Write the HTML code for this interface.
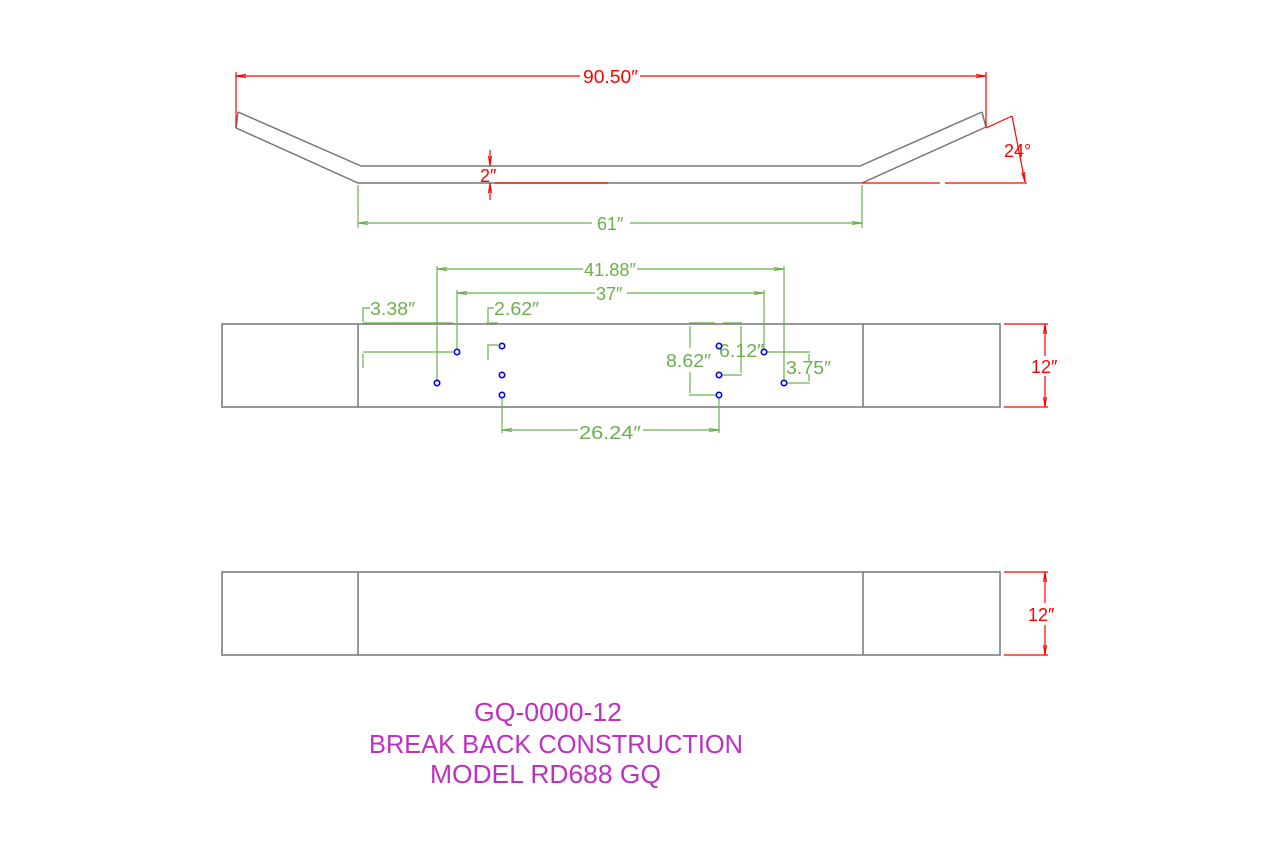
<!DOCTYPE html>
<html><head><meta charset="utf-8"><style>
html,body{margin:0;padding:0;background:#fff;}
svg{display:block;}
text{font-family:"Liberation Sans",sans-serif;}
</style></head><body>
<svg width="1280" height="853" viewBox="0 0 1280 853" xmlns="http://www.w3.org/2000/svg">
<defs>
<marker id="ag" viewBox="0 0 10 6" refX="10" refY="3" markerWidth="10" markerHeight="6" orient="auto-start-reverse" markerUnits="userSpaceOnUse"><path d="M0,1.5 L10,3 L0,4.5" fill="none" stroke="#6ab04c" stroke-width="1"/></marker>
<marker id="rr" viewBox="0 0 10 6" refX="10" refY="3" markerWidth="10" markerHeight="6" orient="auto-start-reverse" markerUnits="userSpaceOnUse"><path d="M0,1.5 L10,3 L0,4.5" fill="none" stroke="#f00" stroke-width="1"/></marker>
</defs>

<g stroke="#777" stroke-width="1.5" fill="none">
<polyline points="238,112 361,166 860,166 982,112"/>
<polyline points="236,128 358,183 862,183 986,127"/>
<line x1="238" y1="112" x2="236" y2="128"/>
<line x1="982" y1="112" x2="986" y2="127"/>
</g>
<g stroke="#f00" stroke-width="1.2" fill="none">
<line x1="236" y1="72" x2="236" y2="128"/>
<line x1="986" y1="72" x2="986" y2="127"/>
<line x1="236" y1="76" x2="580" y2="76" marker-start="url(#rr)"/>
<line x1="640" y1="76" x2="986" y2="76" marker-end="url(#rr)"/>
<line x1="490" y1="150" x2="490" y2="166" marker-end="url(#rr)"/>
<line x1="490" y1="200" x2="490" y2="183" marker-end="url(#rr)"/>
<line x1="495" y1="183" x2="608" y2="183"/>
<line x1="862" y1="183" x2="940" y2="183"/>
<line x1="945" y1="183" x2="1027" y2="183"/>
<line x1="986" y1="128" x2="1012" y2="116"/>
<line x1="1012" y1="116" x2="1025" y2="182" marker-end="url(#rr)"/>
</g>
<g fill="#f00" font-size="18">
<text x="583" y="83" textLength="55" lengthAdjust="spacingAndGlyphs">90.50″</text>
<text x="480" y="182">2″</text>
<text x="1004" y="157">24°</text>
</g>
<g stroke="#6ab04c" stroke-width="1.2" fill="none">
<line x1="358" y1="185" x2="358" y2="228"/>
<line x1="862" y1="185" x2="862" y2="228"/>
<line x1="358" y1="223" x2="592" y2="223" marker-start="url(#ag)"/>
<line x1="630" y1="223" x2="862" y2="223" marker-end="url(#ag)"/>
</g>
<text x="597" y="230" fill="#6ab04c" font-size="18">61″</text>

<g stroke="#777" stroke-width="1.5" fill="none">
<rect x="222" y="324" width="778" height="83"/>
<line x1="358" y1="324" x2="358" y2="407"/>
<line x1="863" y1="324" x2="863" y2="407"/>
</g>
<g stroke="#6ab04c" stroke-width="1.2" fill="none">
<line x1="437" y1="380" x2="437" y2="266"/>
<line x1="784" y1="380" x2="784" y2="266"/>
<line x1="437" y1="269" x2="583" y2="269" marker-start="url(#ag)"/>
<line x1="637" y1="269" x2="784" y2="269" marker-end="url(#ag)"/>
<line x1="457" y1="349" x2="457" y2="290"/>
<line x1="764" y1="349" x2="764" y2="290"/>
<line x1="457" y1="293" x2="595" y2="293" marker-start="url(#ag)"/>
<line x1="627" y1="293" x2="764" y2="293" marker-end="url(#ag)"/>
<line x1="363" y1="323" x2="453" y2="323"/>
<polyline points="363,322 363,308 370,308"/>
<line x1="363" y1="352" x2="453" y2="352"/>
<line x1="363" y1="354" x2="363" y2="368"/>
<polyline points="488,322 488,308 494,308"/>
<line x1="486" y1="323" x2="498" y2="323"/>
<polyline points="498,345 488,345 488,360"/>
<line x1="689" y1="323" x2="715" y2="323"/>
<line x1="689" y1="395" x2="716" y2="395"/>
<line x1="690" y1="326" x2="690" y2="348"/>
<line x1="690" y1="372" x2="690" y2="393"/>
<line x1="723" y1="323" x2="742" y2="323"/>
<line x1="722" y1="375" x2="742" y2="375"/>
<line x1="741" y1="326" x2="741" y2="373"/>
<line x1="767" y1="352" x2="810" y2="352"/>
<line x1="787" y1="383" x2="810" y2="383"/>
<line x1="809" y1="354" x2="809" y2="362"/>
<line x1="809" y1="374" x2="809" y2="381"/>
<line x1="502" y1="398" x2="502" y2="433"/>
<line x1="719" y1="398" x2="719" y2="433"/>
<line x1="502" y1="430" x2="578" y2="430" marker-start="url(#ag)"/>
<line x1="643" y1="430" x2="719" y2="430" marker-end="url(#ag)"/>
</g>
<g fill="#6ab04c" font-size="18">
<text x="584" y="276" textLength="52" lengthAdjust="spacingAndGlyphs">41.88″</text>
<text x="596" y="300">37″</text>
<text x="370" y="315" textLength="45" lengthAdjust="spacingAndGlyphs">3.38″</text>
<text x="494" y="315" textLength="45" lengthAdjust="spacingAndGlyphs">2.62″</text>
<text x="666" y="367" textLength="45" lengthAdjust="spacingAndGlyphs">8.62″</text>
<text x="719" y="357" textLength="45" lengthAdjust="spacingAndGlyphs">6.12″</text>
<text x="786" y="374" textLength="45" lengthAdjust="spacingAndGlyphs">3.75″</text>
<text x="579" y="439" textLength="62" lengthAdjust="spacingAndGlyphs">26.24″</text>
</g>
<g fill="#fff" stroke="#00f" stroke-width="1.6">
<circle cx="457" cy="352" r="2.7"/><circle cx="437" cy="383" r="2.7"/>
<circle cx="502" cy="346" r="2.7"/><circle cx="502" cy="375" r="2.7"/><circle cx="502" cy="395" r="2.7"/>
<circle cx="719" cy="346" r="2.7"/><circle cx="719" cy="375" r="2.7"/><circle cx="719" cy="395" r="2.7"/>
<circle cx="764" cy="352" r="2.7"/><circle cx="784" cy="383" r="2.7"/>
</g>
<g stroke="#f00" stroke-width="1.2" fill="none">
<line x1="1004" y1="324" x2="1048" y2="324"/>
<line x1="1004" y1="407" x2="1048" y2="407"/>
<line x1="1045" y1="356" x2="1045" y2="324" marker-end="url(#rr)"/>
<line x1="1045" y1="376" x2="1045" y2="407" marker-end="url(#rr)"/>
<line x1="1004" y1="572" x2="1048" y2="572"/>
<line x1="1004" y1="655" x2="1048" y2="655"/>
<line x1="1045" y1="603" x2="1045" y2="572" marker-end="url(#rr)"/>
<line x1="1045" y1="625" x2="1045" y2="655" marker-end="url(#rr)"/>
</g>
<g fill="#f00" font-size="18">
<text x="1031" y="373">12″</text>
<text x="1028" y="621">12″</text>
</g>

<g stroke="#777" stroke-width="1.5" fill="none">
<rect x="222" y="572" width="778" height="83"/>
<line x1="358" y1="572" x2="358" y2="655"/>
<line x1="863" y1="572" x2="863" y2="655"/>
</g>

<g fill="#c030c0" font-size="26">
<text x="474" y="721" textLength="148" lengthAdjust="spacingAndGlyphs">GQ-0000-12</text>
<text x="369" y="753" textLength="374" lengthAdjust="spacingAndGlyphs">BREAK BACK CONSTRUCTION</text>
<text x="430" y="783" textLength="231" lengthAdjust="spacingAndGlyphs">MODEL RD688 GQ</text>
</g>
</svg>
</body></html>
